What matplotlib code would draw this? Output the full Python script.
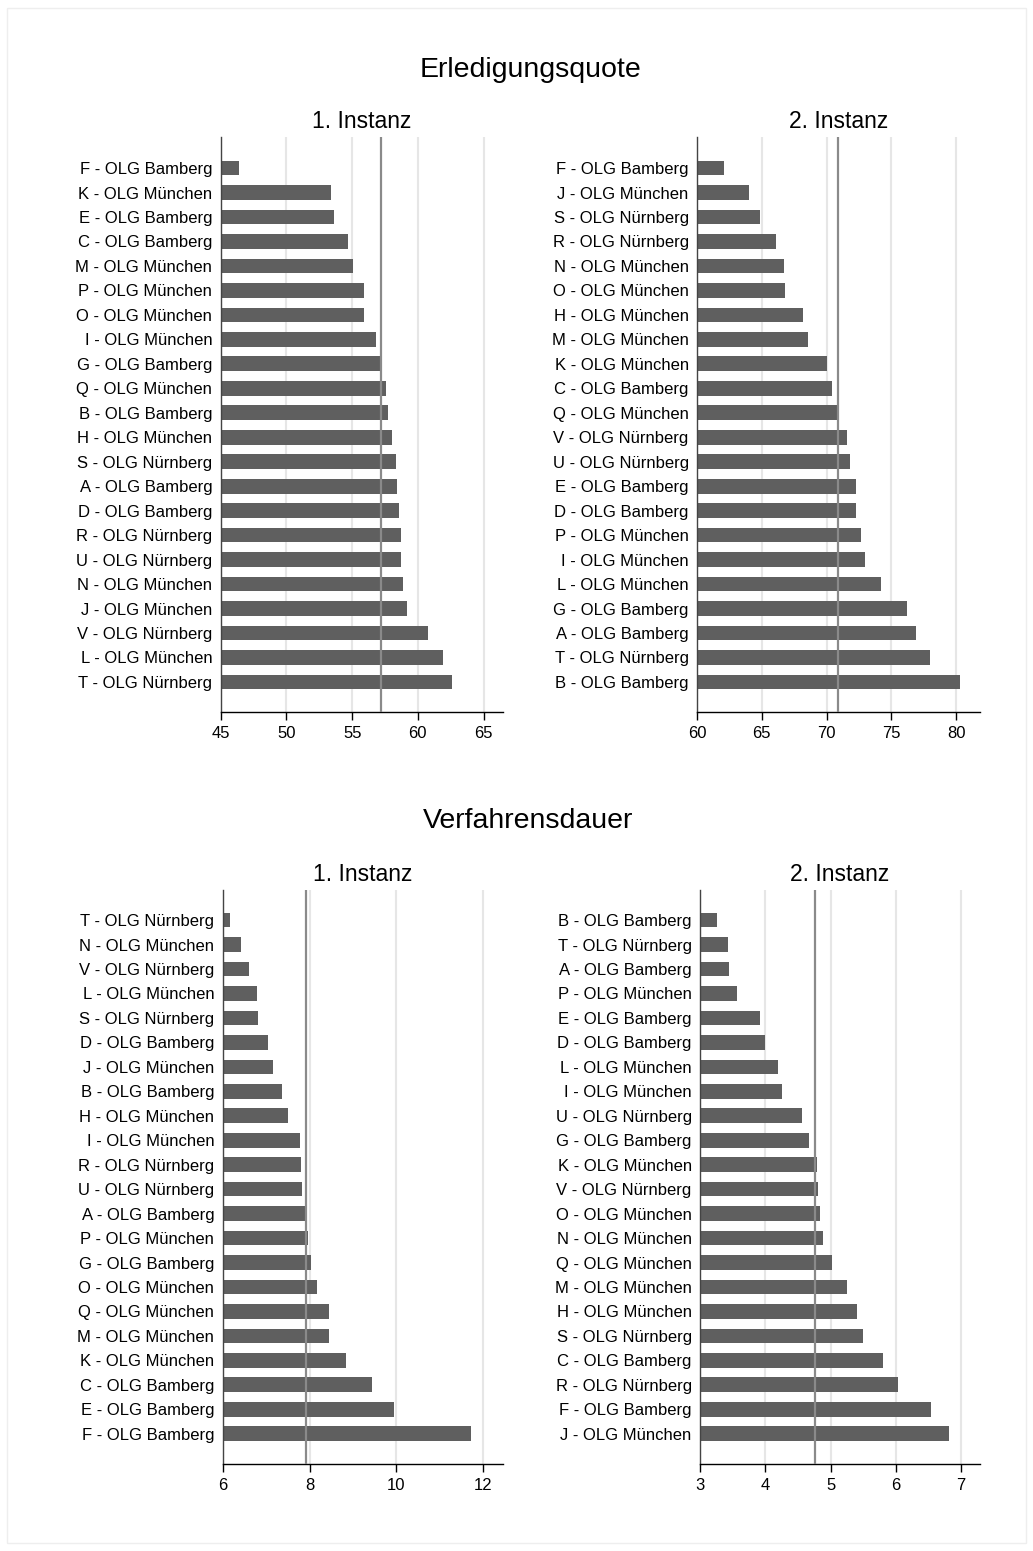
import matplotlib
matplotlib.use("Agg")
import matplotlib.pyplot as plt
from matplotlib.patches import Rectangle

plt.rcParams['font.family'] = ['Liberation Sans', 'DejaVu Sans']

# ---------------- data ----------------
erl1_labels = ["F - OLG Bamberg", "K - OLG München", "E - OLG Bamberg", "C - OLG Bamberg",
               "M - OLG München", "P - OLG München", "O - OLG München", "I - OLG München",
               "G - OLG Bamberg", "Q - OLG München", "B - OLG Bamberg", "H - OLG München",
               "S - OLG Nürnberg", "A - OLG Bamberg", "D - OLG Bamberg", "R - OLG Nürnberg",
               "U - OLG Nürnberg", "N - OLG München", "J - OLG München", "V - OLG Nürnberg",
               "L - OLG München", "T - OLG Nürnberg"]
erl1_values = [46.4, 53.4, 53.6, 54.7, 55.1, 55.9, 55.9, 56.8, 57.1, 57.6, 57.7, 58.0,
               58.3, 58.4, 58.6, 58.7, 58.75, 58.9, 59.2, 60.8, 61.9, 62.6]
erl1_mean = 57.2

erl2_labels = ["F - OLG Bamberg", "J - OLG München", "S - OLG Nürnberg", "R - OLG Nürnberg",
               "N - OLG München", "O - OLG München", "H - OLG München", "M - OLG München",
               "K - OLG München", "C - OLG Bamberg", "Q - OLG München", "V - OLG Nürnberg",
               "U - OLG Nürnberg", "E - OLG Bamberg", "D - OLG Bamberg", "P - OLG München",
               "I - OLG München", "L - OLG München", "G - OLG Bamberg", "A - OLG Bamberg",
               "T - OLG Nürnberg", "B - OLG Bamberg"]
erl2_values = [62.1, 64.0, 64.9, 66.1, 66.7, 66.8, 68.2, 68.6, 70.0, 70.4, 70.9, 71.6,
               71.8, 72.3, 72.3, 72.7, 73.0, 74.2, 76.2, 76.9, 78.0, 80.3]
erl2_mean = 70.9

dau1_labels = ["T - OLG Nürnberg", "N - OLG München", "V - OLG Nürnberg", "L - OLG München",
               "S - OLG Nürnberg", "D - OLG Bamberg", "J - OLG München", "B - OLG Bamberg",
               "H - OLG München", "I - OLG München", "R - OLG Nürnberg", "U - OLG Nürnberg",
               "A - OLG Bamberg", "P - OLG München", "G - OLG Bamberg", "O - OLG München",
               "Q - OLG München", "M - OLG München", "K - OLG München", "C - OLG Bamberg",
               "E - OLG Bamberg", "F - OLG Bamberg"]
dau1_values = [6.17, 6.41, 6.61, 6.78, 6.82, 7.04, 7.16, 7.36, 7.51, 7.77, 7.80, 7.83,
               7.90, 7.97, 8.03, 8.17, 8.45, 8.45, 8.83, 9.44, 9.94, 11.71]
dau1_mean = 7.92

dau2_labels = ["B - OLG Bamberg", "T - OLG Nürnberg", "A - OLG Bamberg", "P - OLG München",
               "E - OLG Bamberg", "D - OLG Bamberg", "L - OLG München", "I - OLG München",
               "U - OLG Nürnberg", "G - OLG Bamberg", "K - OLG München", "V - OLG Nürnberg",
               "O - OLG München", "N - OLG München", "Q - OLG München", "M - OLG München",
               "H - OLG München", "S - OLG Nürnberg", "C - OLG Bamberg", "R - OLG Nürnberg",
               "F - OLG Bamberg", "J - OLG München"]
dau2_values = [3.26, 3.43, 3.44, 3.56, 3.92, 4.00, 4.20, 4.26, 4.56, 4.67, 4.80, 4.81,
               4.84, 4.89, 5.02, 5.25, 5.40, 5.49, 5.80, 6.03, 6.54, 6.82]
dau2_mean = 4.76

erl1_ticks = [45, 50, 55, 60, 65]
erl2_ticks = [60, 65, 70, 75, 80]
dau1_ticks = [6, 8, 10, 12]
dau2_ticks = [3, 4, 5, 6, 7]

section_titles = ["Erledigungsquote", "Verfahrensdauer"]
panel_titles = ["1. Instanz", "2. Instanz"]

# ---------------- layout ----------------
W, H = 1033, 1551
fig = plt.figure(figsize=(W / 100, H / 100), dpi=100)
fig.patch.set_facecolor("white")

def px_axes(x0, y0, x1, y1):
    return fig.add_axes([x0 / W, 1 - y1 / H, (x1 - x0) / W, (y1 - y0) / H])

BAR = "#5f5f5f"
GRID = "#e6e6e6"
MEAN = "#8a8a8a"

def panel(ax, labels, values, mean, ticks, xlim, title, ylim):
    n = len(values)
    pos = list(range(n))
    for t in ticks:
        ax.axvline(t, color=GRID, lw=1.5, zorder=0)
    ax.barh(pos, [v - xlim[0] for v in values], left=xlim[0], height=0.6,
            color=BAR, zorder=2)
    ax.axvline(mean, color=MEAN, lw=1.6, zorder=3)
    ax.set_xlim(*xlim)
    ax.set_ylim(*ylim)
    ax.set_yticks(pos)
    ax.set_yticklabels(labels, fontsize=12)
    ax.tick_params(axis="y", length=0, pad=6)
    ax.set_xticks(ticks)
    ax.set_xticklabels([str(t) for t in ticks], fontsize=12)
    ax.tick_params(axis="x", length=6, width=1, pad=4, color="black")
    for s in ["top", "right"]:
        ax.spines[s].set_visible(False)
    ax.spines["left"].set_color("#444444")
    ax.spines["left"].set_linewidth(1.0)
    ax.spines["bottom"].set_color("black")
    ax.spines["bottom"].set_linewidth(1.0)
    ax.set_title(title, fontsize=16.5, pad=6.5)

ax1 = px_axes(220.7, 137, 503.3, 712.3)
panel(ax1, erl1_labels, erl1_values, erl1_mean, erl1_ticks, (45, 66.5),
      panel_titles[0], (22.24, -1.27))
ax2 = px_axes(697, 137, 980, 712.3)
panel(ax2, erl2_labels, erl2_values, erl2_mean, erl2_ticks, (60, 81.85),
      panel_titles[1], (22.24, -1.27))
ax3 = px_axes(222.7, 890, 503.3, 1464.3)
panel(ax3, dau1_labels, dau1_values, dau1_mean, dau1_ticks, (6, 12.46),
      panel_titles[0], (22.25, -1.23))
ax4 = px_axes(700, 890, 980, 1464.3)
panel(ax4, dau2_labels, dau2_values, dau2_mean, dau2_ticks, (3, 7.29),
      panel_titles[1], (22.25, -1.23))

fig.text(530 / W, 1 - 77 / H, section_titles[0], fontsize=20.5, ha="center", va="baseline")
fig.text(528 / W, 1 - 828 / H, section_titles[1], fontsize=20.5, ha="center", va="baseline")

# light outer frame
fig.patches.append(Rectangle((7 / W, 8 / H), (1026 - 7) / W, (1543 - 8) / H,
                             transform=fig.transFigure, fill=False,
                             edgecolor="#eeeeee", lw=1.0))

fig.savefig("out.png", dpi=100)
